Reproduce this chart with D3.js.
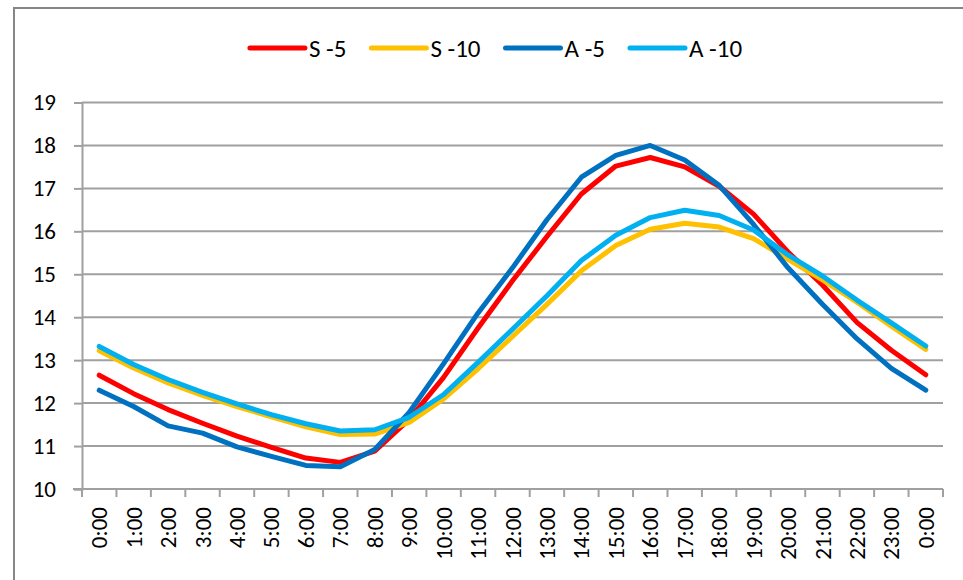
<!DOCTYPE html>
<html>
<head>
<meta charset="utf-8">
<script src="https://cdn.jsdelivr.net/npm/d3@7"></script>
<style>
  html, body { margin: 0; padding: 0; background: #fff; }
  svg { display: block; }
  text { font-family: Carlito, Calibri, Lato, sans-serif; fill: #000; }
</style>
</head>
<body>
<svg id="chart" width="963" height="580"></svg>
<script>
// Hourly categories (the day wraps back to 0:00)
const hours = ["0:00","1:00","2:00","3:00","4:00","5:00","6:00","7:00","8:00","9:00","10:00","11:00",
  "12:00","13:00","14:00","15:00","16:00","17:00","18:00","19:00","20:00","21:00","22:00","23:00","0:00"];

const seriesNames = ["S -5", "S -10", "A -5", "A -10"];
const seriesColors = ["#FF0000", "#FFC000", "#0070C0", "#00B0F0"];

const s5  = [12.65, 12.22, 11.85, 11.53, 11.23, 10.97, 10.72, 10.62, 10.88, 11.62, 12.6, 13.75,
             14.85, 15.88, 16.87, 17.52, 17.72, 17.5, 17.05, 16.4, 15.52, 14.75, 13.88, 13.23, 12.66];
const s10 = [13.22, 12.82, 12.47, 12.18, 11.92, 11.68, 11.45, 11.27, 11.28, 11.55, 12.1, 12.8,
             13.55, 14.3, 15.08, 15.67, 16.05, 16.19, 16.1, 15.83, 15.35, 14.87, 14.35, 13.79, 13.25];
const a5  = [12.3, 11.92, 11.47, 11.3, 10.98, 10.76, 10.55, 10.52, 10.92, 11.78, 12.92, 14.1,
             15.15, 16.27, 17.26, 17.77, 18.0, 17.66, 17.07, 16.16, 15.15, 14.3, 13.5, 12.81, 12.3];
const a10 = [13.32, 12.9, 12.55, 12.25, 11.98, 11.73, 11.52, 11.35, 11.38, 11.67, 12.2, 12.95,
             13.72, 14.5, 15.32, 15.91, 16.32, 16.49, 16.37, 16.03, 15.45, 14.96, 14.4, 13.87, 13.33];

const yTicks = [10, 11, 12, 13, 14, 15, 16, 17, 18, 19];

const seriesValues = [s5, s10, a5, a10];

const svg = d3.select("#chart");
const margin = { left: 82, right: 20, top: 102.5, bottom: 91 };
const W = 963, H = 580;
const x0 = margin.left, x1 = W - margin.right;
const y0 = H - margin.bottom, y1 = margin.top;
const tickFont = "23px";
const legendFont = "25px";

// Outer chart frame
svg.append("rect")
  .attr("x", 14).attr("y", 8)
  .attr("width", W + 20).attr("height", H + 20)
  .attr("fill", "none").attr("stroke", "#868686").attr("stroke-width", 2);

const x = d3.scaleBand().domain(d3.range(hours.length)).range([x0, x1]).padding(0);
const y = d3.scaleLinear().domain([10, 19]).range([y0, y1]);

// Horizontal gridlines
svg.append("g").selectAll("line")
  .data(yTicks.filter(t => t > 10))
  .join("line")
  .attr("x1", x0).attr("x2", x1)
  .attr("y1", d => y(d)).attr("y2", d => y(d))
  .attr("stroke", "#A0A0A0").attr("stroke-width", 2);

// Y axis
const yAxis = svg.append("g")
  .attr("transform", `translate(${x0},0)`)
  .call(d3.axisLeft(y).tickValues(yTicks).tickSize(8).tickPadding(18).tickFormat(d3.format("d")));
yAxis.select(".domain").attr("stroke", "#A0A0A0").attr("stroke-width", 2);
yAxis.selectAll(".tick line").attr("stroke", "#A0A0A0").attr("stroke-width", 2);
yAxis.selectAll(".tick text").style("font-size", tickFont).style("font-family", "Carlito, Calibri, Lato, sans-serif");

// X axis: ticks at category boundaries, labels rotated at category centres
const xAxisG = svg.append("g").attr("transform", `translate(0,${y0})`);
xAxisG.append("line")
  .attr("x1", x0 - 9).attr("x2", x1).attr("y1", 0).attr("y2", 0)
  .attr("stroke", "#A0A0A0").attr("stroke-width", 2);
xAxisG.selectAll("line.tk")
  .data(d3.range(hours.length + 1))
  .join("line").attr("class", "tk")
  .attr("x1", i => x0 + i * x.step()).attr("x2", i => x0 + i * x.step())
  .attr("y1", 0).attr("y2", 8)
  .attr("stroke", "#A0A0A0").attr("stroke-width", 2);
xAxisG.selectAll("text")
  .data(hours)
  .join("text")
  .attr("transform", (d, i) => `translate(${x(i) + x.bandwidth() / 2},18) rotate(-90)`)
  .attr("text-anchor", "end")
  .attr("dy", "0.35em")
  .style("font-size", tickFont)
  .text(d => d);

// Series lines
const line = d3.line()
  .x((d, i) => x(i) + x.bandwidth() / 2)
  .y(d => y(d));

svg.append("g").selectAll("path")
  .data(seriesValues)
  .join("path")
  .attr("d", d => line(d))
  .attr("fill", "none")
  .attr("stroke", (d, i) => seriesColors[i])
  .attr("stroke-width", 5)
  .attr("stroke-linejoin", "round")
  .attr("stroke-linecap", "round");

// Legend, centred above the plot
const legend = svg.append("g").attr("transform", "translate(0,48)");
const items = legend.selectAll("g")
  .data(seriesNames)
  .join("g");
items.append("line")
  .attr("x1", 0).attr("x2", 55).attr("y1", 0).attr("y2", 0)
  .attr("stroke", (d, i) => seriesColors[i])
  .attr("stroke-width", 5)
  .attr("stroke-linecap", "round");
items.append("text")
  .attr("x", 59).attr("dy", "0.35em")
  .style("font-size", legendFont)
  .text(d => d);
const widths = [];
items.each(function () {
  widths.push(59 + d3.select(this).select("text").node().getComputedTextLength());
});
const totalW = d3.sum(widths) + 25 * (widths.length - 1);
let cursor = 496 - totalW / 2;
items.attr("transform", (d, i) => {
  const t = `translate(${cursor},0)`;
  cursor += widths[i] + 25;
  return t;
});
</script>
</body>
</html>
